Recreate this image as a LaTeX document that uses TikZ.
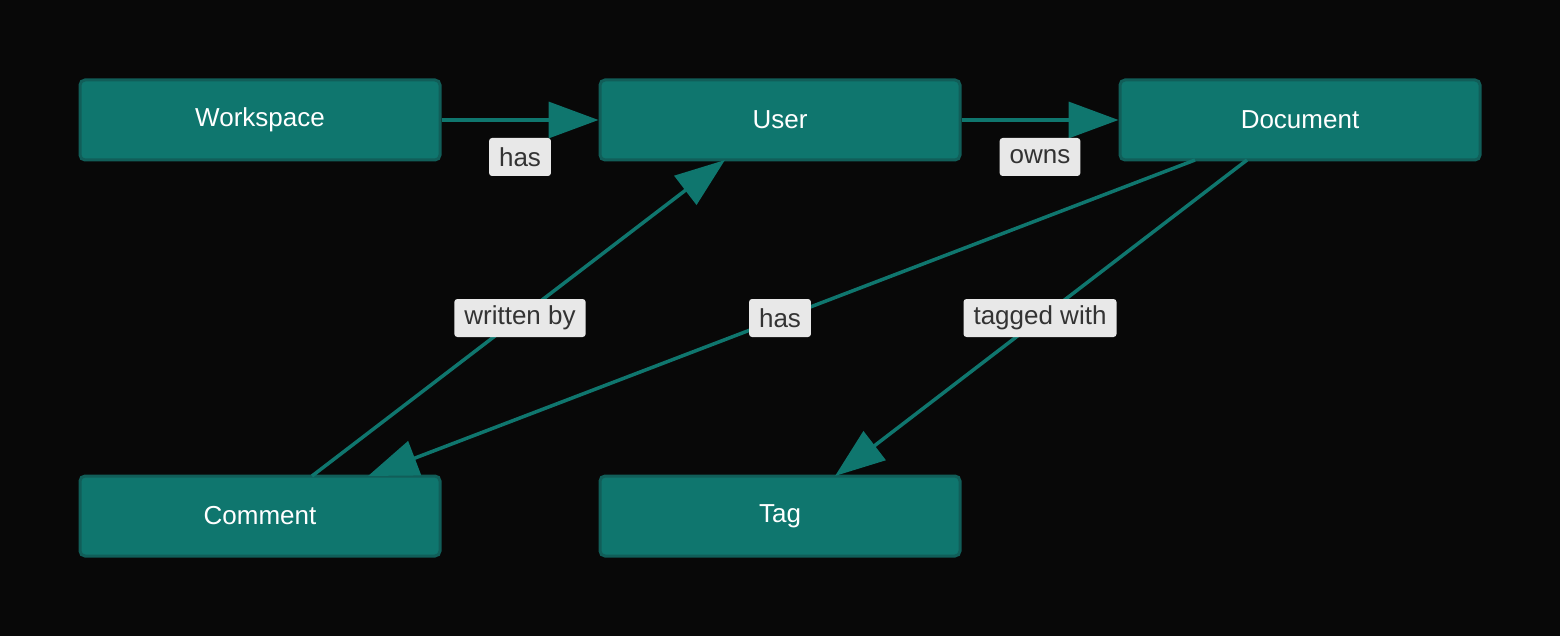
\documentclass[tikz,border=0pt]{standalone}
\usepackage{fontspec}
\setmainfont{Liberation Sans}
\usetikzlibrary{arrows.meta}
\definecolor{bg}{HTML}{080808}
\definecolor{tealf}{HTML}{0F766E}
\definecolor{teald}{HTML}{115E59}
\definecolor{lab}{HTML}{E8E8E8}
\definecolor{labt}{HTML}{333333}
\begin{document}
\begin{tikzpicture}[x=1pt,y=-1pt,
  box/.style={draw=teald,line width=3pt,fill=tealf,rounded corners=5pt,minimum width=360pt,minimum height=80pt,text=white,font=\fontsize{26}{30}\selectfont,inner sep=0pt},
  edge/.style={draw=tealf,line width=3.5pt,-{Triangle[length=50pt,width=36pt]}},
  lbl/.style={fill=lab,text=labt,rounded corners=3pt,font=\fontsize{26}{30}\selectfont,inner xsep=10pt,minimum height=38pt,inner ysep=0pt}]
\fill[bg] (0,0) rectangle (1560,636);
\useasboundingbox (0,0) rectangle (1560,636);
\node[box] (ws) at (260,120) {Workspace};
\node[box] (us) at (780,120) {User};
\node[box] (doc) at (1300,120) {Document};
\node[box] (com) at (260,516) {Comment};
\node[box] (tag) at (780,516) {Tag};
\coordinate (c1) at (312,476); \coordinate (u1) at (725,160);
\coordinate (d1) at (1195,160); \coordinate (c2) at (368,476);
\coordinate (d2) at (1247,160); \coordinate (t1) at (835,476);
\draw[edge] (ws.east) -- (us.west);
\draw[edge] (us.east) -- (doc.west);
\draw[edge] (c1) -- (u1);
\draw[edge] (d1) -- (c2);
\draw[edge] (d2) -- (t1);
\node[lbl] (l1) at (520,157) {has};
\node[lbl] (l2) at (1040,157) {owns};
\node[lbl] (l3) at (520,318) {written by};
\node[lbl] (l4) at (780,318) {has};
\node[lbl] (l5) at (1040,318) {tagged with};
\end{tikzpicture}
\end{document}
